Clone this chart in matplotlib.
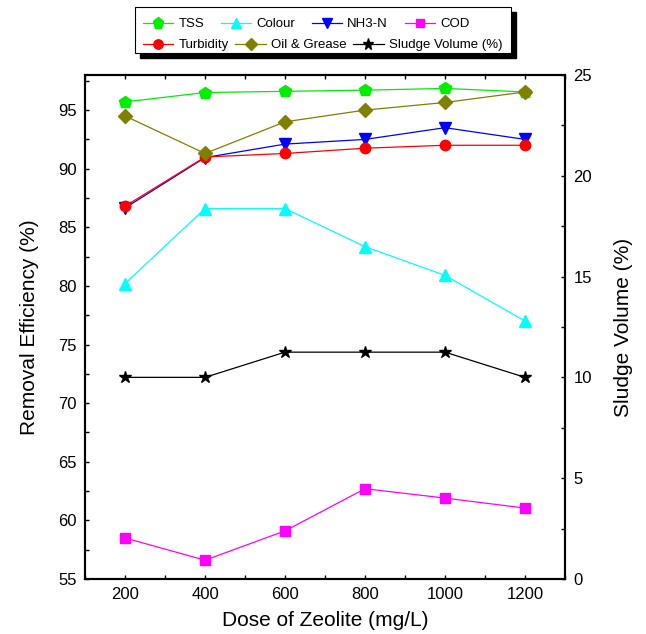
import matplotlib
matplotlib.use("Agg")
import matplotlib.pyplot as plt
from matplotlib.ticker import MultipleLocator
from matplotlib.patches import Rectangle
from matplotlib.transforms import Bbox

plt.rcParams['font.family'] = ['Liberation Sans', 'DejaVu Sans']

dose = [200, 400, 600, 800, 1000, 1200]
tss = [95.7, 96.5, 96.6, 96.7, 96.85, 96.55]
colour = [80.2, 86.6, 86.6, 83.35, 80.9, 77.0]
nh3n = [86.65, 90.95, 92.1, 92.5, 93.5, 92.5]
cod = [58.5, 56.6, 59.1, 62.7, 61.9, 61.05]
turbidity = [86.8, 91.0, 91.3, 91.75, 92.0, 92.0]
oil_grease = [94.5, 91.3, 94.0, 95.0, 95.65, 96.55]
sludge = [10.0, 10.0, 11.25, 11.25, 11.25, 10.0]

fig = plt.figure(figsize=(6.46, 6.34), dpi=100)
ax = fig.add_axes([0.1316, 0.0868, 0.743, 0.795])
ax2 = ax.twinx()

lw = 0.9
h_tss, = ax.plot(dose, tss, '-p', color='#00ee00', lw=lw, ms=9, label='TSS')
h_col, = ax.plot(dose, colour, '-^', color='#00ffff', lw=lw, ms=8, label='Colour')
h_nh3, = ax.plot(dose, nh3n, '-v', color='#0000ff', lw=lw, ms=8, label='NH3-N')
h_cod, = ax.plot(dose, cod, '-s', color='#ff00ff', lw=lw, ms=7, label='COD')
h_tur, = ax.plot(dose, turbidity, '-o', color='#ff0000', lw=lw, ms=7.5, label='Turbidity')
h_oil, = ax.plot(dose, oil_grease, '-D', color='#808000', lw=lw, ms=7, label='Oil & Grease')
h_slu, = ax2.plot(dose, sludge, '-*', color='black', lw=lw, ms=9, label='Sludge Volume (%)')

ax.set_xlim(100, 1300)
ax.set_ylim(55, 98)
ax2.set_ylim(0, 25)

ax.xaxis.set_major_locator(MultipleLocator(200))
ax.xaxis.set_minor_locator(MultipleLocator(100))
ax.yaxis.set_major_locator(MultipleLocator(5))
ax.yaxis.set_minor_locator(MultipleLocator(2.5))
ax2.yaxis.set_major_locator(MultipleLocator(5))
ax2.yaxis.set_minor_locator(MultipleLocator(2.5))

ax.tick_params(axis='x', which='both', direction='in', top=True, length=3, width=1, labelsize=12)
ax.tick_params(axis='y', which='both', direction='in', right=False, length=3, width=1, labelsize=12)
ax2.tick_params(axis='y', which='both', direction='in', length=3, width=1, labelsize=12)
ax.tick_params(which='major', pad=6)
ax2.tick_params(which='major', pad=6)

for a in (ax, ax2):
    for s in a.spines.values():
        s.set_linewidth(1.5)

ax.set_xlabel('Dose of Zeolite (mg/L)', fontsize=15, labelpad=6)
ax.set_ylabel('Removal Efficiency (%)', fontsize=15, labelpad=14)
ax2.set_ylabel('Sludge Volume (%)', fontsize=15, labelpad=16)

# two legend rows, each flowing on its own, inside one shared frame
leg_kw = dict(frameon=False, fontsize=9.5, handlelength=2.3, handletextpad=0.4,
              borderpad=0, borderaxespad=0, markerscale=0.9, loc='upper left')
row1 = [h_tss, h_col, h_nh3, h_cod]
row2 = [h_tur, h_oil, h_slu]
leg1 = fig.legend(handles=row1, labels=[h.get_label() for h in row1], ncol=4,
                  columnspacing=1.25, bbox_to_anchor=(143 / 646, 1 - 18 / 634), **leg_kw)
leg2 = fig.legend(handles=row2, labels=[h.get_label() for h in row2], ncol=3,
                  columnspacing=0.5, bbox_to_anchor=(143 / 646, 1 - 39 / 634), **leg_kw)
leg1.set_zorder(6)
leg2.set_zorder(6)

fig.canvas.draw()
r = fig.canvas.get_renderer()
bb = Bbox.union([leg1.get_window_extent(r), leg2.get_window_extent(r)])
x0, y0, x1, y1 = bb.x0 - 8, bb.y0 - 2, bb.x1 + 9, bb.y1 + 11
fig.patches.append(Rectangle((x0 + 5, y0 - 5), x1 - x0, y1 - y0, transform=None,
                             facecolor='black', edgecolor='black', zorder=3))
fig.patches.append(Rectangle((x0, y0), x1 - x0, y1 - y0, transform=None,
                             facecolor='white', edgecolor='black', lw=0.8, zorder=4))

fig.savefig('out.png', dpi=100)
